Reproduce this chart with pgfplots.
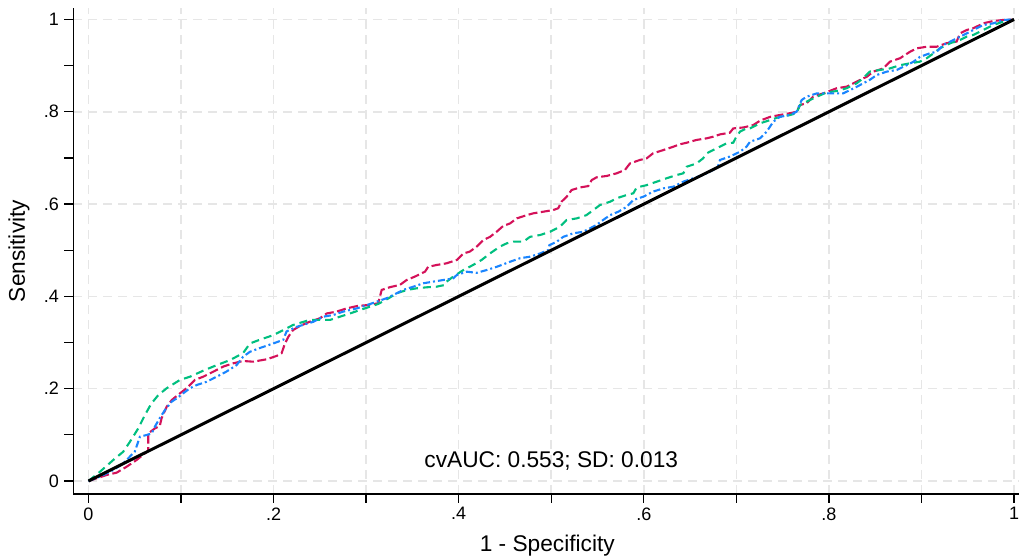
\documentclass[border=0pt]{standalone}
\usepackage{pgfplots}
\pgfplotsset{compat=1.18}
\usepackage{fontspec}
\setmainfont{Liberation Sans}
\definecolor{cred}{RGB}{212,17,89}
\definecolor{cgreen}{RGB}{0,191,127}
\definecolor{cblue}{RGB}{26,133,255}
\definecolor{gridc}{RGB}{230,230,230}
\begin{document}
\begin{tikzpicture}
\useasboundingbox (-73.3pt,-65pt) rectangle (945.7pt,494pt);
\begin{axis}[
  scale only axis,
  width=945.7pt, height=486pt,
  xmin=-0.0164, xmax=1.0054,
  ymin=-0.0282, ymax=1.0249,
  axis x line=bottom, axis y line=left,
  axis line style={-, black, line width=1.4pt},
  xtick={0,0.1,0.2,0.3,0.4,0.5,0.6,0.7,0.8,0.9,1},
  xticklabels={0,,.2,,.4,,.6,,.8,,1},
  ytick={0,0.2,0.4,0.6,0.8,1},
  yticklabels={0,.2,.4,.6,.8,1},
  minor ytick={0.1,0.3,0.5,0.7,0.9},
  tick align=outside,
  major tick length=9pt, minor tick length=9pt,
  tick style={black, line width=1.3pt},
  xmajorgrids, ymajorgrids,
  major grid style={gridc, line width=1.5pt, dash pattern=on 9pt off 6pt},
  ticklabel style={font=\fontsize{18}{22}\selectfont},
  yticklabel style={xshift=-2pt},
  xticklabel style={yshift=-1pt},
  clip=true,
]
% red
\addplot[cred, line width=2.1pt, dash pattern=on 9pt off 3.5pt] coordinates {
(0,0) (0.0196,0.013) (0.0304,0.018) (0.0413,0.031) (0.052,0.0455) (0.0646,0.0657) (0.0646,0.103)
(0.0718,0.114) (0.077,0.119) (0.079,0.136) (0.0845,0.161) (0.090,0.1755) (0.0989,0.190)
(0.106,0.201) (0.115,0.219) (0.124,0.226) (0.135,0.237) (0.1457,0.248) (0.1565,0.255)
(0.167,0.260) (0.178,0.2585) (0.1925,0.2637) (0.2033,0.271) (0.2087,0.277) (0.2123,0.298)
(0.216,0.3127) (0.221,0.327) (0.2285,0.336) (0.239,0.345) (0.250,0.3525) (0.2574,0.363)
(0.268,0.367) (0.279,0.374) (0.290,0.379) (0.3006,0.381) (0.313,0.385) (0.3168,0.414)
(0.3258,0.420) (0.3366,0.425) (0.3438,0.4355) (0.3528,0.443) (0.3636,0.4535) (0.367,0.464)
(0.376,0.468) (0.387,0.4717) (0.398,0.479) (0.405,0.493) (0.412,0.497) (0.4195,0.508)
(0.4266,0.522) (0.4338,0.529) (0.441,0.540) (0.448,0.5525) (0.4554,0.558) (0.4627,0.569)
(0.4735,0.576) (0.4806,0.580) (0.4914,0.5835) (0.502,0.587) (0.5076,0.591) (0.511,0.605)
(0.5167,0.616) (0.522,0.6305) (0.531,0.636) (0.540,0.639) (0.5437,0.652) (0.549,0.658)
(0.560,0.661) (0.5707,0.6667) (0.5797,0.674) (0.585,0.688) (0.5958,0.6956) (0.603,0.699)
(0.610,0.710) (0.621,0.717) (0.632,0.7244) (0.639,0.7296) (0.6464,0.733) (0.657,0.739)
(0.668,0.7425) (0.675,0.746) (0.6823,0.751) (0.693,0.7547) (0.6967,0.764) (0.7075,0.766)
(0.718,0.771) (0.7256,0.7807) (0.7364,0.789) (0.747,0.793) (0.758,0.797) (0.765,0.800)
(0.7688,0.8147) (0.776,0.8185) (0.783,0.8327) (0.794,0.840) (0.8084,0.851) (0.819,0.8544)
(0.8264,0.8617) (0.8336,0.869) (0.841,0.876) (0.848,0.887) (0.8588,0.894) (0.866,0.9086)
(0.8768,0.916) (0.8876,0.930) (0.895,0.9375) (0.9057,0.941) (0.9165,0.941) (0.927,0.9485)
(0.938,0.9521) (0.9417,0.970) (0.949,0.9773) (0.956,0.981) (0.9668,0.9917) (0.9776,0.9967)
(0.9884,0.999) (1,1)
};
% green
\addplot[cgreen, line width=2.1pt, dash pattern=on 8pt off 5pt] coordinates {
(0,0) (0.0124,0.020) (0.0268,0.0455) (0.0376,0.0635) (0.0448,0.085) (0.0538,0.114)
(0.061,0.143) (0.068,0.168) (0.0754,0.186) (0.0845,0.201) (0.0989,0.219) (0.1097,0.226)
(0.124,0.239) (0.1385,0.251) (0.153,0.262) (0.167,0.277) (0.1745,0.298) (0.185,0.306)
(0.1997,0.316) (0.2105,0.327) (0.221,0.338) (0.239,0.349) (0.250,0.349) (0.261,0.349)
(0.2717,0.356) (0.2826,0.363) (0.2934,0.3705) (0.3042,0.3777) (0.313,0.3835) (0.3244,0.396)
(0.333,0.4067) (0.344,0.4139) (0.3546,0.4175) (0.3654,0.4197) (0.376,0.421) (0.385,0.4247)
(0.387,0.432) (0.394,0.4427) (0.405,0.457) (0.4155,0.468) (0.4248,0.479) (0.4338,0.493)
(0.4446,0.508) (0.452,0.515) (0.459,0.5186) (0.470,0.5186) (0.477,0.529) (0.488,0.533)
(0.4987,0.540) (0.5095,0.551) (0.5167,0.5655) (0.5275,0.569) (0.538,0.576) (0.5454,0.587)
(0.5527,0.598) (0.5635,0.605) (0.5707,0.6126) (0.5815,0.6197) (0.5887,0.6234) (0.5923,0.636)
(0.603,0.641) (0.614,0.6486) (0.6247,0.656) (0.6356,0.663) (0.6427,0.6667) (0.6464,0.681)
(0.657,0.688) (0.664,0.699) (0.668,0.710) (0.6788,0.721) (0.6896,0.7317) (0.6967,0.733)
(0.700,0.746) (0.704,0.757) (0.711,0.764) (0.7147,0.764) (0.7256,0.775) (0.7364,0.782)
(0.747,0.789) (0.758,0.793) (0.765,0.797) (0.7688,0.8147) (0.776,0.822) (0.787,0.8327)
(0.7976,0.842) (0.8084,0.845) (0.819,0.851) (0.830,0.8617) (0.837,0.8726) (0.844,0.887)
(0.855,0.8906) (0.866,0.894) (0.8768,0.901) (0.8876,0.905) (0.8984,0.9086) (0.9057,0.916)
(0.913,0.9267) (0.920,0.9375) (0.931,0.9485) (0.9417,0.9556) (0.949,0.963) (0.956,0.9665)
(0.9668,0.9773) (0.9776,0.988) (0.9884,0.9953) (1,1)
};
% blue
\addplot[cblue, line width=2.1pt, dash pattern=on 7pt off 3pt on 2pt off 3pt] coordinates {
(0,0) (0.0124,0.0094) (0.0268,0.0238) (0.0376,0.038) (0.0448,0.053) (0.050,0.0635)
(0.0556,0.096) (0.0629,0.0997) (0.0683,0.103) (0.0718,0.118) (0.077,0.136) (0.0827,0.154)
(0.090,0.172) (0.0953,0.179) (0.1024,0.190) (0.1097,0.201) (0.117,0.208) (0.1277,0.215)
(0.1385,0.226) (0.149,0.237) (0.160,0.251) (0.167,0.269) (0.1745,0.280) (0.185,0.288)
(0.1997,0.298) (0.2105,0.306) (0.214,0.324) (0.225,0.334) (0.243,0.345) (0.2537,0.356)
(0.2645,0.3597) (0.2753,0.367) (0.290,0.374) (0.3006,0.381) (0.3114,0.3885) (0.322,0.396)
(0.333,0.4067) (0.340,0.414) (0.351,0.421) (0.3618,0.4284) (0.3726,0.432) (0.3834,0.4355)
(0.394,0.439) (0.398,0.4464) (0.4087,0.4535) (0.4195,0.451) (0.430,0.457) (0.441,0.464)
(0.4554,0.475) (0.4662,0.4826) (0.477,0.486) (0.488,0.493) (0.4968,0.5005) (0.498,0.511)
(0.506,0.5186) (0.513,0.529) (0.5238,0.5367) (0.5346,0.540) (0.542,0.5476) (0.549,0.555)
(0.556,0.5655) (0.5635,0.576) (0.5725,0.5835) (0.5815,0.594) (0.5887,0.609) (0.5995,0.616)
(0.610,0.627) (0.621,0.634) (0.632,0.6377) (0.6427,0.6486) (0.6535,0.656) (0.664,0.663)
(0.675,0.674) (0.680,0.681) (0.6823,0.6956) (0.693,0.703) (0.704,0.7135) (0.711,0.7244)
(0.7147,0.735) (0.7256,0.7426) (0.7328,0.757) (0.740,0.7786) (0.747,0.789) (0.758,0.793)
(0.765,0.800) (0.7706,0.8256) (0.776,0.8327) (0.787,0.840) (0.801,0.840) (0.8156,0.840)
(0.8228,0.847) (0.830,0.854) (0.837,0.8617) (0.844,0.869) (0.8517,0.8797) (0.8625,0.887)
(0.8733,0.8906) (0.884,0.901) (0.891,0.908) (0.8984,0.919) (0.909,0.9267) (0.9165,0.930)
(0.9236,0.9447) (0.931,0.952) (0.938,0.959) (0.949,0.970) (0.956,0.9773) (0.9668,0.988)
(0.9776,0.9917) (0.9884,0.999) (1,1)
};
% reference line
\addplot[black, line width=3pt] coordinates {(0,0) (1,1)};
\node[font=\fontsize{22.7}{27}\selectfont] at (axis cs:0.5,0.043) {cvAUC: 0.553; SD: 0.013};
\end{axis}
\node[font=\fontsize{22.7}{27}\selectfont] at (474pt,-52pt) {1 - Specificity};
\node[font=\fontsize{22.7}{27}\selectfont, rotate=90] at (-54.3pt,243pt) {Sensitivity};
\end{tikzpicture}
\end{document}
